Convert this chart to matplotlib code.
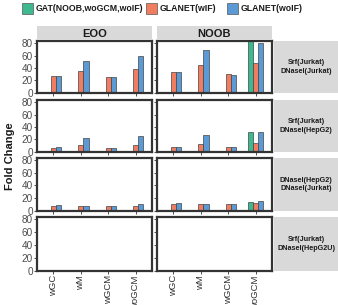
import numpy as np
import matplotlib
matplotlib.use('Agg')
from matplotlib import pyplot as plt
from matplotlib.patches import Rectangle

plt.rcParams['font.family'] = ['Liberation Sans', 'DejaVu Sans']

categories = ['wGC', 'wM', 'wGCM', 'woGCM']
methods = ['EOO', 'NOOB']
rows = ['Srf(Jurkat)\nDNaseI(Jurkat)', 'Srf(Jurkat)\nDNaseI(HepG2)',
        'DNaseI(HepG2)\nDNaseI(Jurkat)', 'Srf(Jurkat)\nDNaseI(HepG2U)']
series = ['GAT(NOOB,woGCM,woIF)', 'GLANET(wIF)', 'GLANET(woIF)']
colors = ['#3db88f', '#f07d60', '#5c9ad6']

# values[row][method] -> per category; nan = no bar
nan = np.nan
gat = {
    'EOO': [[nan] * 4] * 4,
    'NOOB': [[nan, nan, nan, 84], [nan, nan, nan, 31.5],
             [nan, nan, nan, 14.5], [nan, nan, nan, 1.5]],
}
wif = {
    'EOO': [[27, 35, 25, 38], [6, 10.5, 6, 11.5], [8, 7, 7, 8], [0.6, 1, 0.6, 1]],
    'NOOB': [[33.5, 44, 30, 48.5], [7, 12, 7, 14], [11, 10, 10, 12], [0.6, 1, 0.6, 1.5]],
}
woif = {
    'EOO': [[27, 52, 25, 59.5], [6.8, 22.7, 6.5, 26], [9, 8, 8, 10], [0.6, 1.5, 0.6, 1.5]],
    'NOOB': [[33.5, 69, 29, 81], [8, 26.5, 7, 31.5], [12, 11, 10.5, 15], [0.6, 1.5, 0.6, 1.5]],
}

W, H = 338, 305
fig = plt.figure(figsize=(W / 100, H / 100), dpi=100)

def box(x0, y0, x1, y1):
    return [x0 / W, 1 - y1 / H, (x1 - x0) / W, (y1 - y0) / H]

col_x = [(37, 152), (157, 272)]
row_y = [(41, 93), (100, 152), (158, 211), (217, 271)]
strip_gray = '#d9d9d9'
txt_gray = '#4d4d4d'

x = np.arange(len(categories))
bw = 0.19
for r, (y0, y1) in enumerate(row_y):
    for c, (x0, x1) in enumerate(col_x):
        m = methods[c]
        ax = fig.add_axes(box(x0, y0, x1, y1))
        vals = [gat[m][r], wif[m][r], woif[m][r]]
        for k, v in enumerate(vals):
            ax.bar(x + (k - 1) * bw, v, bw, color=colors[k],
                   edgecolor='#444444', linewidth=0.5)
        ax.set_xlim(-0.6, 3.6)
        ax.set_ylim(-0.5, 83.5)
        ax.set_yticks([0, 20, 40, 60, 80])
        ax.set_xticks(x)
        for s in ax.spines.values():
            s.set_linewidth(1.6)
            s.set_color('#333333')
        ax.tick_params(length=2, width=0.6, color='#333333', pad=1,
                       labelsize=7.2, labelcolor=txt_gray)
        ax.tick_params(axis='y', labelleft=(c == 0))
        if r == 3:
            ax.set_xticklabels(categories, rotation=90, fontsize=6.8,
                               color='#333333', va='top')
        else:
            ax.tick_params(axis='x', labelbottom=False)

# top strips
for c, (x0, x1) in enumerate(col_x):
    sax = fig.add_axes(box(x0, 26, x1, 40))
    sax.set_facecolor(strip_gray)
    sax.set_xticks([]); sax.set_yticks([])
    for s in sax.spines.values():
        s.set_visible(False)
    sax.text(0.5, 0.45, methods[c], ha='center', va='center', fontsize=8,
             fontweight='bold', color='#1a1a1a', transform=sax.transAxes)

# right strips
for r, (y0, y1) in enumerate(row_y):
    sax = fig.add_axes(box(274, y0, 338, y1))
    sax.set_facecolor(strip_gray)
    sax.set_xticks([]); sax.set_yticks([])
    for s in sax.spines.values():
        s.set_visible(False)
    sax.text(0.5, 0.5, rows[r], ha='center', va='center', fontsize=5.2,
             fontweight='bold', color='#1a1a1a', linespacing=1.3,
             transform=sax.transAxes)

fig.text(10 / W, 1 - 156 / H, 'Fold Change', rotation=90, ha='center',
         va='center', fontsize=8, fontweight='bold', color='#1a1a1a')

# legend
leg_x = [22, 146, 227]
for k, name in enumerate(series):
    fig.patches.append(Rectangle((leg_x[k] / W, 1 - 14 / H), 11 / W, 11 / H,
                                 transform=fig.transFigure, facecolor=colors[k],
                                 edgecolor='#555555', linewidth=0.5))
    fig.text((leg_x[k] + 14) / W, 1 - 8.5 / H, name, ha='left', va='center',
             fontsize=6.3, fontweight='bold', color='#1a1a1a')

fig.savefig('out.png', dpi=100)
